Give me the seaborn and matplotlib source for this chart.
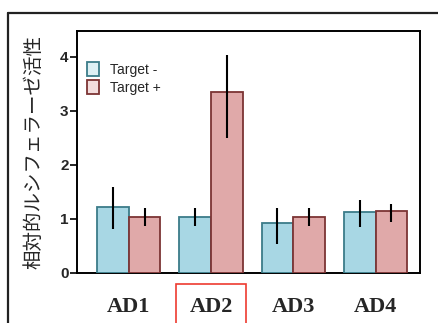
import numpy as np
import pandas as pd
import seaborn as sns
import matplotlib.pyplot as plt
from matplotlib.lines import Line2D
from matplotlib.patches import Patch

# values
constructs = ['AD1', 'AD2', 'AD3', 'AD4']
target_minus = [1.22, 1.04, 0.92, 1.13]
target_plus = [1.04, 3.35, 1.04, 1.15]
minus_low = [0.81, 0.87, 0.53, 0.86]
minus_high = [1.60, 1.21, 1.21, 1.36]
plus_low = [0.87, 2.50, 0.87, 0.94]
plus_high = [1.21, 4.03, 1.20, 1.28]

df = pd.DataFrame({
    'construct': constructs * 2,
    'group': ['Target -'] * 4 + ['Target +'] * 4,
    'value': target_minus + target_plus,
    'low': minus_low + plus_low,
    'high': minus_high + plus_high,
})

sns.set_style('white')
plt.rcParams['font.family'] = ['Liberation Sans', 'DejaVu Sans']

fig = plt.figure(figsize=(4.38, 3.23), dpi=100)
ax = fig.add_axes([77 / 438, 1 - 273 / 323, 343 / 438, 242 / 323])

fills = {'Target -': '#a8d7e4', 'Target +': '#e0a9a9'}
edges = {'Target -': '#3b7c89', 'Target +': '#7c3434'}
sns.barplot(data=df, x='construct', y='value', hue='group', palette=fills,
            width=0.77, errorbar=None, saturation=1, ax=ax, legend=False,
            zorder=3)

# edge colours and error bars
for patch, (_, row) in zip(ax.patches, df.iterrows()):
    patch.set_edgecolor(edges[row['group']])
    patch.set_linewidth(1.3)
    cx = patch.get_x() + patch.get_width() / 2
    ax.plot([cx, cx], [row['low'], row['high']], color='black', lw=1.5,
            zorder=4, solid_capstyle='butt')

ax.set_xlim(-0.63, 3.54)
ax.set_ylim(0, 4.48)
ax.set_yticks([0, 1, 2, 3, 4])
ax.set_yticklabels(['0', '1', '2', '3', '4'], fontweight='bold', fontsize=11)
ax.tick_params(axis='y', left=True, length=5, width=1.2, pad=1, color='black')
ax.tick_params(axis='x', bottom=False, pad=14)
ax.set_xticks(range(4))
ax.set_xticklabels(constructs, family=['Liberation Serif', 'DejaVu Serif'],
                   fontweight='bold', fontsize=16)
for sp in ax.spines.values():
    sp.set_color('black')
    sp.set_linewidth(1.4)
    sp.set_zorder(2)

ax.set_xlabel('')
ax.set_ylabel('相対的ルシフェラーゼ活性',
              family=['Noto Sans CJK JP', 'DejaVu Sans'], fontsize=14, labelpad=11)

# red box around AD2
ax.get_xticklabels()[1].set_bbox(dict(boxstyle='square,pad=0.6', fc='none',
                                      ec='#ee3b30', lw=1.2))

handles = [Patch(facecolor='#ddf0f4', edgecolor=edges['Target -'], lw=1.3),
           Patch(facecolor='#f3dede', edgecolor=edges['Target +'], lw=1.3)]
ax.legend(handles, ['Target -', 'Target +'], loc='upper left', frameon=False,
          fontsize=10, handlelength=0.85, handleheight=1.2, handletextpad=0.8,
          labelspacing=0.25, bbox_to_anchor=(-0.01, 0.93), borderaxespad=0.6)

# outer frame (only top and left edges fall inside the picture)
fig.add_artist(Line2D([8 / 438, 8 / 438], [0, 1 - 13 / 323],
                      transform=fig.transFigure, color='#222222', lw=1.6))
fig.add_artist(Line2D([8 / 438, 1], [1 - 13 / 323, 1 - 13 / 323],
                      transform=fig.transFigure, color='#222222', lw=1.6))

fig.savefig('out.png', dpi=100)
